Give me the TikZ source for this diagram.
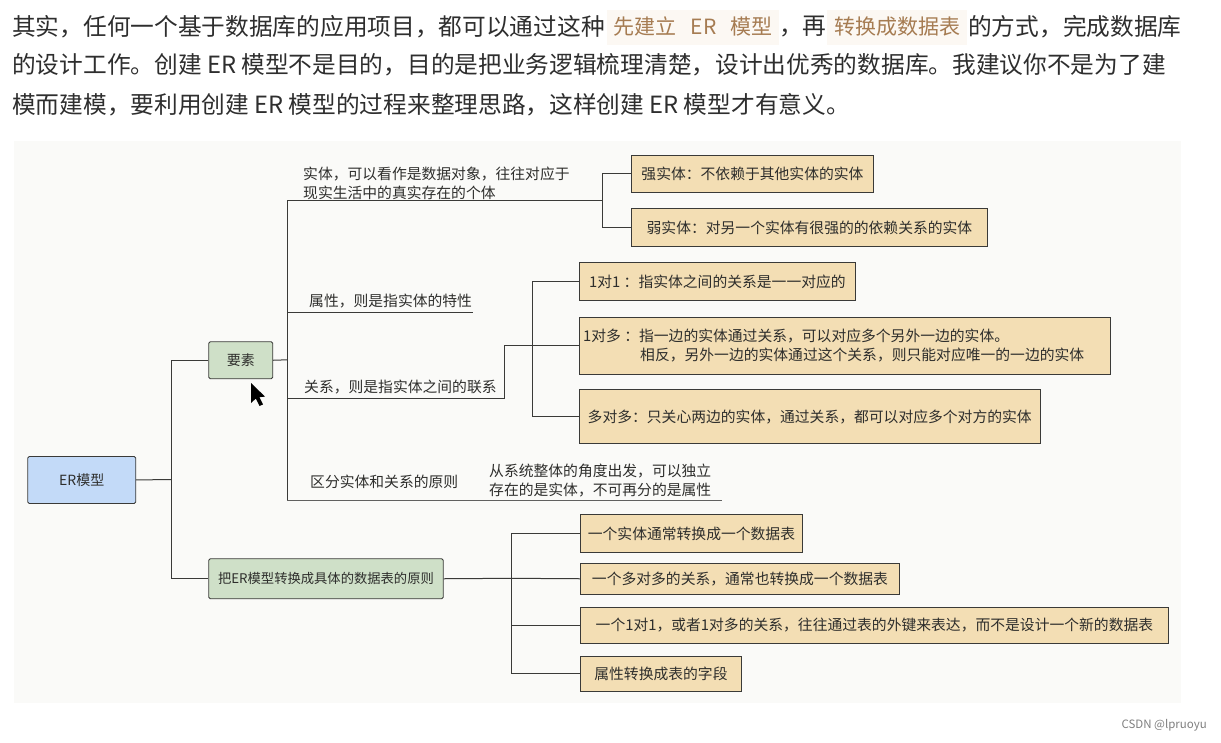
\documentclass[tikz,border=0pt]{standalone}
\usepackage{fontspec}
\setmainfont{Noto Sans CJK SC}
\definecolor{mInk}{HTML}{2E2E2C}
\definecolor{mLine}{HTML}{3A3A38}
\definecolor{mPanel}{HTML}{FAFAF8}
\definecolor{mRoot}{HTML}{C3DAF8}
\definecolor{mTopic}{HTML}{CFE0C8}
\definecolor{mLeaf}{HTML}{F3DEB4}
\definecolor{mCode}{HTML}{A67C52}
\definecolor{mCodeBg}{HTML}{FCF8F3}
\usetikzlibrary{positioning,calc}
\newcommand{\dou}{\char"FF0C\relax}
\newcommand{\mao}{\char"FF1A\relax}
\tikzset{
  para/.style={anchor=west, inner sep=0pt, text=black!82, font=\fontsize{23.7}{28}\selectfont},
  codebit/.style={inner sep=0pt, fill=mCodeBg, text=mCode, minimum height=35, font=\fontsize{21}{24}\selectfont},
  plain/.style={anchor=west, inner sep=0pt, text=mInk, align=left, font=\fontsize{14.8}{19}\selectfont},
  topicbox/.style={draw=mLine, line width=0.9pt, rounded corners=1.5pt, anchor=north west, inner sep=0pt, align=center, text=mInk, font=\fontsize{14}{19}\selectfont},
  leafbox/.style={draw=mLine, line width=0.9pt, fill=mLeaf, anchor=north west, inner sep=0pt, align=center, text=mInk, font=\fontsize{14.8}{19}\selectfont},
  branch/.style={draw=mLine, line width=1pt},
}
\begin{document}
\begin{tikzpicture}[x=1pt, y=-1pt]
\useasboundingbox (0,0) rectangle (1221,742);
\fill[white] (0,0) rectangle (1221,742);
\fill[mPanel] (14,141) rectangle (1181,703);
\node[para] (lineA) at (12,27) {其实\dou 任何一个基于数据库的应用项目\dou 都可以通过这种};
\node[codebit, minimum width=172] (codeA) at (693,27) {先建立\hspace{14pt}ER\hspace{14pt}模型};
\node[para] (lineB) at (779,27) {\dou 再};
\node[codebit, minimum width=140] (codeB) at (897,27) {转换成数据表};
\node[para] (lineC) at (968,27) {的方式\dou 完成数据库};
\node[para] (lineD) at (12,65) {的设计工作。创建 ER 模型不是目的\dou 目的是把业务逻辑梳理清楚\dou 设计出优秀的数据库。我建议你不是为了建};
\node[para] (lineE) at (12,104.5) {模而建模\dou 要利用创建 ER 模型的过程来整理思路\dou 这样创建 ER 模型才有意义。};

\node[topicbox, fill=mRoot, minimum width=108, minimum height=47] (root) at (27.3,456) {ER模型};
\node[topicbox, fill=mTopic, minimum width=64, minimum height=37] (elements) at (208.3,341.3) {要素};
\node[topicbox, fill=mTopic, minimum width=234.5, minimum height=40, font=\fontsize{13.3}{19}\selectfont] (rule) at (208.3,558.3) {把ER模型转换成具体的数据表的原则};

\node[plain] (entity) at (303,183) {实体\dou 可以看作是数据对象\dou 往往对应于\\现实生活中的真实存在的个体};
\node[plain] (attr) at (309,301) {属性\dou 则是指实体的特性};
\node[plain] (rel) at (304,387.5) {关系\dou 则是指实体之间的联系};
\node[plain] (tell) at (310,481.5) {区分实体和关系的原则};
\node[plain] (tellnote) at (489,480.5) {从系统整体的角度出发\dou 可以独立\\存在的是实体\dou 不可再分的是属性};

\node[leafbox, minimum width=242, minimum height=37] (strong) at (631,154.5) {强实体\mao 不依赖于其他实体的实体};
\node[leafbox, minimum width=356, minimum height=38.5] (weak) at (631,207.7) {弱实体\mao 对另一个实体有很强的的依赖关系的实体};
\node[leafbox, minimum width=276, minimum height=38] (oneone) at (579,262.3) {1对1 \mao 指实体之间的关系是一一对应的};
\node[leafbox, minimum width=530.5, minimum height=57.5, align=left] (onemany) at (579,316.7) {1对多 \mao 指一边的实体通过关系\dou 可以对应多个另外一边的实体。\\\hspace*{57pt}相反\dou 另外一边的实体通过这个关系\dou 则只能对应唯一的一边的实体\hspace*{22pt}};
\node[leafbox, minimum width=460.5, minimum height=54] (manymany) at (579,389.3) {多对多\mao 只关心两边的实体\dou 通过关系\dou 都可以对应多个对方的实体};

\node[leafbox, minimum width=222, minimum height=38] (tableA) at (580,514) {一个实体通常转换成一个数据表};
\node[leafbox, minimum width=319, minimum height=31] (tableB) at (580,562.8) {一个多对多的关系\dou 通常也转换成一个数据表};
\node[leafbox, minimum width=588, minimum height=36.6] (tableC) at (580,606.7) {一个1对1\dou 或者1对多的关系\dou 往往通过表的外键来表达\dou 而不是设计一个新的数据表};
\node[leafbox, minimum width=161, minimum height=35] (tableD) at (580,656) {属性转换成表的字段};

\coordinate (rootjoin) at (171.7,479.5);
\coordinate (elemjoin) at (287.3,359.8);
\coordinate (entityend) at (602.5,200.5);
\coordinate (attrend) at (472.7,312.3);
\coordinate (relturn) at (504.7,398.7);
\coordinate (reljoin) at (532.3,345.5);
\coordinate (tellend) at (722,500.7);
\coordinate (tablejoin) at (511.6,578.3);

\draw[branch] (root.east) -- (rootjoin);
\draw[branch] (elements.west) -| (rootjoin) |- (rule.west);
\draw[branch] (elements.east) -- (elemjoin);
\draw[branch] (entityend) -- (entityend -| elemjoin) -- (tellend -| elemjoin);
\draw[branch] (attrend -| elemjoin) -- (attrend);
\draw[branch] (relturn -| elemjoin) -- (relturn) |- (onemany.west);
\draw[branch, line width=1.4pt, mLine!80] (tellend -| elemjoin) -- (tellend);
\draw[branch] (strong.west) -| (entityend) |- (weak.west);
\draw[branch] (oneone.west) -| (reljoin) |- (manymany.west);
\draw[branch] (rule.east) -- (tablejoin);
\draw[branch] (tableA.west) -| (tablejoin) |- (tableD.west);
\draw[branch] (tablejoin) -- (tableB.west);
\draw[branch] (tableC.west -| tablejoin) -- (tableC.west);

\fill[black] (251,383) -- (251,403) -- (255.8,398.6) -- (259.6,406) -- (263,404.4) -- (259.4,397.2) -- (265,396.6) -- cycle;
\node[anchor=east, inner sep=0pt, text=black!50, font=\fontsize{11.5}{14}\selectfont] (mark) at (1207,725) {CSDN @lpruoyu};
\end{tikzpicture}
\end{document}
